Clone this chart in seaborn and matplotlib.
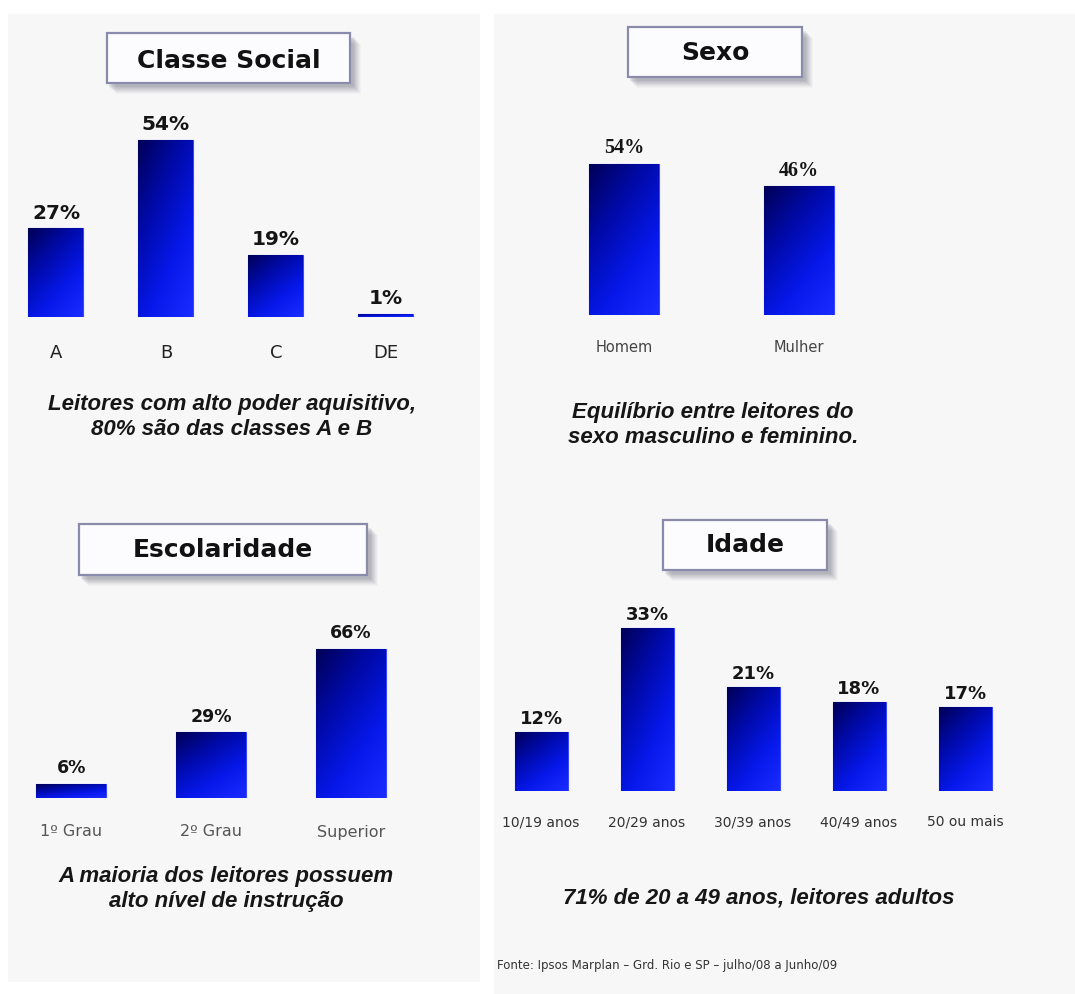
import numpy as np
import matplotlib
matplotlib.use("Agg")
import matplotlib.pyplot as plt
from matplotlib.patches import Rectangle
from matplotlib.colors import LinearSegmentedColormap
import seaborn as sns

# ---------------- data ----------------
classe_cats = ["A", "B", "C", "DE"]
classe_vals = [27, 54, 19, 1]

sexo_cats = ["Homem", "Mulher"]
sexo_vals = [54, 46]

escola_cats = ["1º Grau", "2º Grau", "Superior"]
escola_vals = [6, 29, 66]

idade_cats = ["10/19 anos", "20/29 anos", "30/39 anos", "40/49 anos", "50 ou mais"]
idade_vals = [12, 33, 21, 18, 17]

titles = ["Classe Social", "Sexo", "Escolaridade", "Idade"]
captions = [
    "Leitores com alto poder aquisitivo,\n80% são das classes A e B",
    "Equilíbrio entre leitores do\nsexo masculino e feminino.",
    "A maioria dos leitores possuem\nalto nível de instrução",
    "71% de 20 a 49 anos, leitores adultos",
]
fonte = "Fonte: Ipsos Marplan – Grd. Rio e SP – julho/08 a Junho/09"

# ---------------- figure ----------------
sns.set_theme(style="white")
plt.rcParams["font.family"] = ["DejaVu Sans"]

W, H = 1075, 994
fig = plt.figure(figsize=(W / 100, H / 100), dpi=100)
fig.patch.set_facecolor("white")


def fx(x):
    return x / W


def fy(y):
    return 1 - y / H


def frect(x0, y0, x1, y1, **kw):
    r = Rectangle((fx(x0), fy(y1)), (x1 - x0) / W, (y1 - y0) / H,
                  transform=fig.transFigure, **kw)
    fig.patches.append(r)
    return r


# column backgrounds
frect(8, 14, 480, 982, facecolor="#f7f7f7", edgecolor="none", zorder=-5)
frect(494, 14, 1075, 994, facecolor="#f7f7f7", edgecolor="none", zorder=-5)


def title_box(x0, y0, x1, y1, text, cx, cy):
    for k, a in zip(range(11, 3, -1), [0.04, 0.05, 0.06, 0.07, 0.08, 0.09, 0.1, 0.12]):
        frect(x0 + k - 2, y0 + k, x1 + k, y1 + k, facecolor="#707080",
              edgecolor="none", alpha=a, zorder=-3)
    frect(x0, y0, x1, y1, facecolor="#fcfcff", edgecolor="#8a8aaa",
          linewidth=1.6, zorder=-2)
    fig.text(fx(cx), fy(cy), text, ha="center", va="center", fontsize=18,
             fontweight="bold", color="#111111", family="DejaVu Sans", zorder=3)


grad_cmap = LinearSegmentedColormap.from_list(
    "barg", ["#000055", "#000aa8", "#0618ea", "#1a2cff"])
gy, gx = np.mgrid[0:1:200j, 0:1:100j]
grad = 0.6 * gy + 0.4 * gx


def panel(cats, vals, x0, x1, base, top_px, pxper, width, tick_y,
          tick_fs, tick_color, val_fs, val_family, val_pad):
    ax = fig.add_axes([fx(x0), fy(base), (x1 - x0) / W, (base - top_px) / H])
    ax.set_zorder(5)
    sns.barplot(x=cats, y=vals, order=cats, ax=ax, width=width,
                color="#0010d0", saturation=1, edgecolor="#3848ff",
                linewidth=0.8)
    ax.patch.set_alpha(0)
    for s in ax.spines.values():
        s.set_visible(False)
    ax.set_yticks([])
    ax.set_xlabel("")
    ax.set_ylabel("")
    n = len(cats)
    for p in list(ax.patches):
        bx, by = p.get_x(), p.get_y()
        bw, bh = p.get_width(), p.get_height()
        im = ax.imshow(grad, cmap=grad_cmap, vmin=0, vmax=1,
                       extent=[bx, bx + bw, by, by + bh], origin="upper",
                       aspect="auto", zorder=p.get_zorder() + 0.1,
                       interpolation="bilinear")
        im.set_clip_path(p)
    ax.set_xlim(-0.5, n - 0.5)
    ax.set_ylim(0, (base - top_px) / pxper)
    ax.set_xticks(range(n))
    ax.set_xticklabels(cats, fontsize=tick_fs, color=tick_color)
    ax.tick_params(axis="x", length=0, pad=(tick_y - base) * 0.72)
    for lbl in ax.get_xticklabels():
        lbl.set_va("center")
    ax.bar_label(ax.containers[0], labels=[f"{v}%" for v in vals],
                 padding=val_pad, fontsize=val_fs, fontweight="bold",
                 family=val_family, color="#151515")
    return ax


# Classe Social
title_box(107, 33, 350, 83, titles[0], 229, 61)
panel(classe_cats, classe_vals, 1, 441, 317, 120, 3.28, 0.5, 353,
      13, "#222222", 14.5, "DejaVu Sans", 4)

# Sexo
title_box(628, 27, 802, 77, titles[1], 715, 53)
panel(sexo_cats, sexo_vals, 537, 886, 315, 110, 2.8, 0.4, 347,
      10.5, "#444444", 14.5, "Liberation Serif", 4)

# Escolaridade
title_box(79, 524, 367, 575, titles[2], 223, 550)
panel(escola_cats, escola_vals, 1.5, 421, 798, 610, 2.26, 0.5, 832,
      11.5, "#555555", 12.5, "DejaVu Sans", 5)

# Idade
title_box(663, 520, 827, 570, titles[3], 745, 545)
panel(idade_cats, idade_vals, 488, 1018, 791, 600, 4.94, 0.5, 822,
      10, "#333333", 13, "DejaVu Sans", 3)

# captions
cap_kw = dict(ha="center", va="center", fontsize=16, fontweight="bold",
              fontstyle="italic", color="#161616", family="Liberation Sans",
              linespacing=1.3)
fig.text(fx(232), fy(417), captions[0], **cap_kw)
fig.text(fx(713), fy(425), captions[1], **cap_kw)
fig.text(fx(226), fy(889), captions[2], **cap_kw)
fig.text(fx(759), fy(898), captions[3], **cap_kw)

fig.text(fx(497), fy(965), fonte, ha="left", va="center", fontsize=8.5,
         color="#333333", family="DejaVu Sans")

fig.savefig("out.png", dpi=100, facecolor="white")
